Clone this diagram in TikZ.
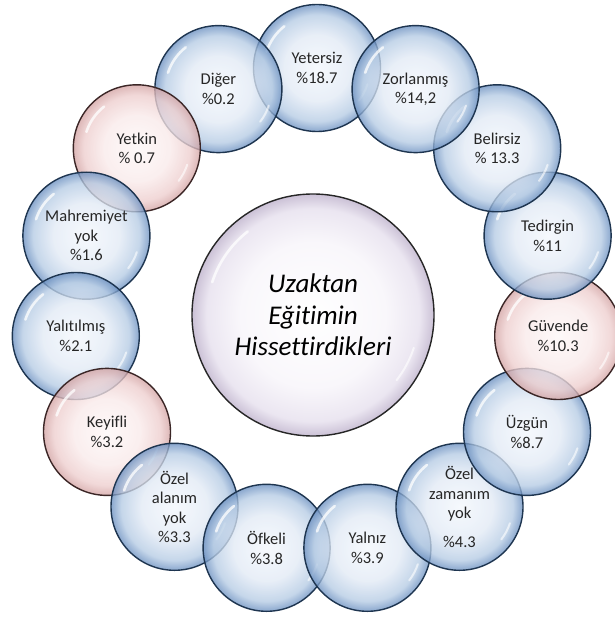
\documentclass[tikz,border=0pt]{standalone}
\usepackage{fontspec}
\setmainfont{Carlito}[Ligatures=NoCommon]
\usetikzlibrary{calc}

\definecolor{blueA}{HTML}{F3F7FC}
\definecolor{blueB}{HTML}{E2EAF5}
\definecolor{blueC}{HTML}{B5CBE4}
\definecolor{blueD}{HTML}{6A8FC0}
\definecolor{pinkA}{HTML}{FDF7F7}
\definecolor{pinkB}{HTML}{F9EAEA}
\definecolor{pinkC}{HTML}{EDCDCD}
\definecolor{pinkD}{HTML}{D3A3A3}
\definecolor{lilacA}{HTML}{FFFFFF}
\definecolor{lilacB}{HTML}{F9F7FB}
\definecolor{lilacC}{HTML}{EBE6F1}
\definecolor{lilacD}{HTML}{CBC1D6}
\definecolor{blueline}{HTML}{1E3550}
\definecolor{pinkline}{HTML}{3B2626}
\definecolor{labelgray}{HTML}{262626}

\pgfdeclareradialshading{blueball}{\pgfpoint{0bp}{0bp}}{color(0bp)=(blueA); color(13bp)=(blueB); color(21bp)=(blueC); color(25bp)=(blueD); color(50bp)=(blueD)}
\pgfdeclareradialshading{pinkball}{\pgfpoint{0bp}{0bp}}{color(0bp)=(pinkA); color(13bp)=(pinkB); color(21bp)=(pinkC); color(25bp)=(pinkD); color(50bp)=(pinkD)}
\pgfdeclareradialshading{lilacball}{\pgfpoint{0bp}{0bp}}{color(0bp)=(lilacA); color(15bp)=(lilacB); color(22bp)=(lilacC); color(25bp)=(lilacD); color(50bp)=(lilacD)}

\def\shine#1{%
  \draw[white, opacity=.75, line width=2.6pt, line cap=round] ($(path picture bounding box.center)+(128:#1)$) arc[start angle=128, end angle=162, radius=#1];
  \draw[white, opacity=.6, line width=2pt, line cap=round] ($(path picture bounding box.center)+(-38:#1)$) arc[start angle=-38, end angle=-18, radius=#1];}

\tikzset{
  bubble/.style={circle, minimum size=127pt, inner sep=0pt, draw=blueline, line width=1.4pt,
    shading=blueball, fill opacity=.78, text opacity=1, text=labelgray, align=center,
    font=\fontsize{16.5}{19.5}\selectfont, path picture={\shine{53pt}}},
  pinkbubble/.style={bubble, draw=pinkline, shading=pinkball},
  hub/.style={circle, minimum size=242pt, inner sep=0pt, draw=black!85, line width=1.4pt,
    shading=lilacball, align=center, font=\fontsize{27}{31.5}\selectfont\itshape,
    path picture={\shine{106pt}}}
}

\begin{document}
\begin{tikzpicture}[x=1pt, y=-1pt]
  %%%%% START %%%%%
  \useasboundingbox (0, 0) rectangle (614, 617);

  \node[hub] (hub) at (313, 315) {Uzaktan\\Eğitimin\\Hissettirdikleri};

  \node[bubble] (yetersiz) at (317, 68) {Yetersiz\\\%18.7};
  \node[bubble] (diger) at (218.4, 89.1) {Diğer\\\%0.2};
  \node[pinkbubble] (yetkin) at (136.8, 148.3) {Yetkin\\\% 0.7};
  \node[bubble] (mahremiyet) at (86.4, 235.7) {Mahremiyet\\yok\\\%1.6};
  \node[bubble] (yalitilmis) at (75.8, 336) {Yalıtılmış\\\%2.1};
  \node[pinkbubble] (keyifli) at (107, 431.9) {Keyifli\\\%3.2};
  \node[bubble] (ozelalan) at (174.5, 506.8) {Özel\\alanım\\yok\\\%3.3};
  \node[bubble] (ofkeli) at (266.6, 547.8) {Öfkeli\\\%3.8};
  \node[bubble] (yalniz) at (367.4, 547.8) {Yalnız\\\%3.9};
  \node[bubble] (ozelzaman) at (459.5, 506.8) {Özel\\zamanım\\yok\\[9pt]\%4.3};
  \node[bubble] (uzgun) at (527, 431.9) {Üzgün\\\%8.7};
  \node[pinkbubble] (guvende) at (558.2, 336) {Güvende\\\%10.3};
  \node[bubble] (tedirgin) at (547.6, 235.7) {Tedirgin\\\%11};
  \node[bubble] (belirsiz) at (497.2, 148.3) {Belirsiz\\\% 13.3};
  \node[bubble] (zorlanmis) at (415.6, 89.1) {Zorlanmış\\\%14,2};
  %%%%% END %%%%%
\end{tikzpicture}
\end{document}
